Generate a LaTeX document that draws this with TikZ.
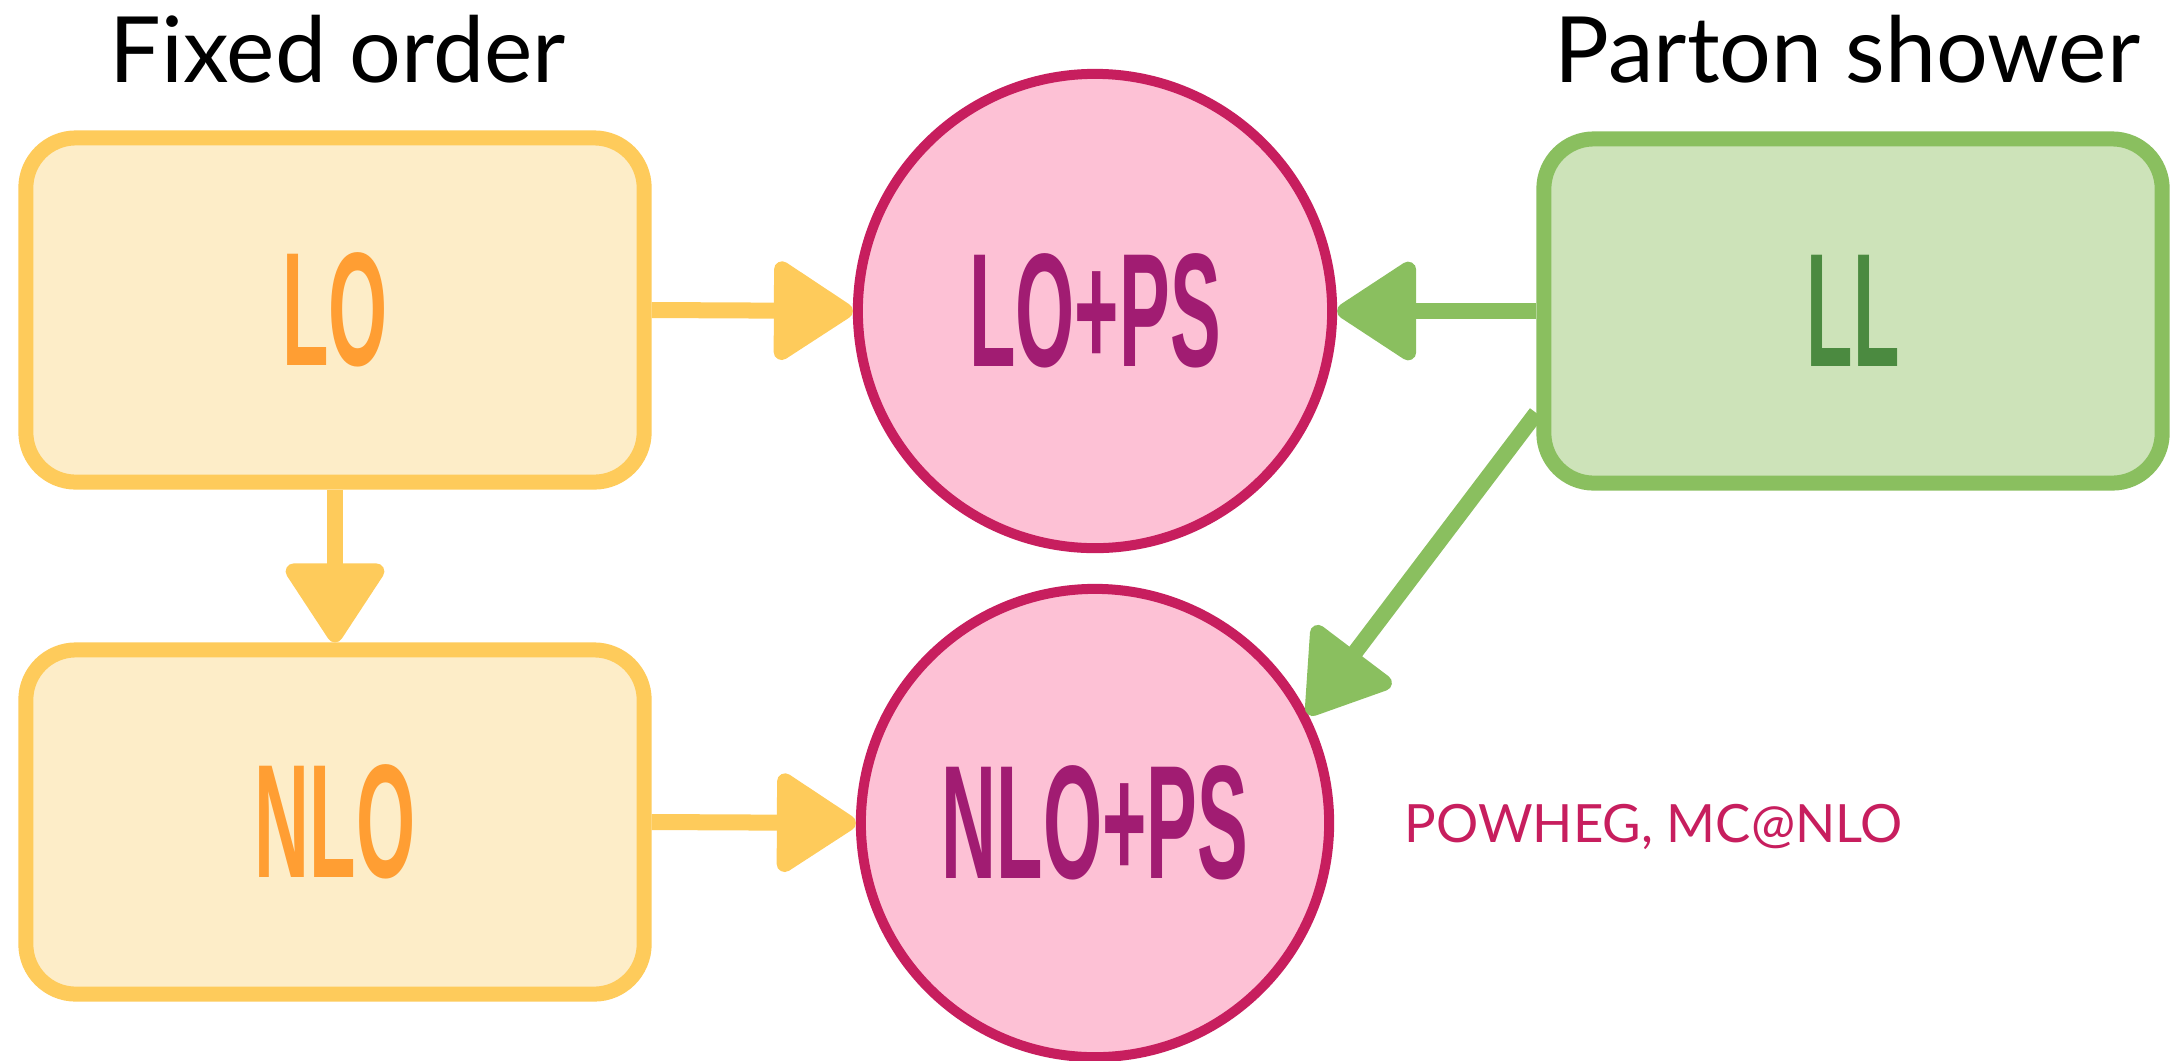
\documentclass[tikz,border=0pt]{standalone}
\usepackage{fontspec}
\usetikzlibrary{arrows.meta}
\setmainfont{Lato}
\newfontfamily\labelfont{Liberation Sans}[UprightFont={* Bold}, FakeStretch=0.47]

% palette
\definecolor{fofill}{HTML}{FDEDC8}
\definecolor{foline}{HTML}{FECB5B}
\definecolor{fotext}{HTML}{FF9E33}
\definecolor{psfill}{HTML}{CDE3B9}
\definecolor{psline}{HTML}{8ABF5F}
\definecolor{pstext}{HTML}{4B8A40}
\definecolor{mixfill}{HTML}{FDC1D5}
\definecolor{mixline}{HTML}{C71E5E}
\definecolor{mixtext}{HTML}{A11C72}

\begin{document}
\begin{tikzpicture}[x=0.01cm, y=-0.01cm,
  lbl/.style={font=\labelfont\fontsize{46}{48}\selectfont},
  box/.style={rectangle, rounded corners=0.5cm, line width=0.15cm,
    minimum width=6.18cm, minimum height=3.44cm, inner sep=0pt, lbl},
  fobox/.style={box, draw=foline, fill=fofill, text=fotext},
  psbox/.style={box, draw=psline, fill=psfill, text=pstext},
  mixcirc/.style={circle, draw=mixline, fill=mixfill, text=mixtext,
    line width=0.1cm, inner sep=0pt, lbl},
  headline/.style={inner sep=0pt, font=\fontsize{26}{30}\selectfont},
  conn/.style={line width=0.16cm, -{Triangle[length=0.86cm, width=1.08cm, round]}},
  foarrow/.style={conn, draw=foline},
  psarrow/.style={conn, draw=psline}]

  \useasboundingbox (0,0) rectangle (2173,1060);

  % column headings
  \node[headline, anchor=base west] (fixed) at (109,82) {Fixed order};
  \node[headline, anchor=base east] (parton) at (2141,82) {Parton shower};

  % fixed-order boxes
  \node[fobox] (LO)  at (335,310) {LO};
  \node[fobox] (NLO) at (335,822) {NLO};

  % parton-shower box
  \node[psbox] (LL) at (1853,311) {LL};

  % matched results
  \node[mixcirc, minimum size=4.74cm] (LOPS)  at (1095,311) {LO+PS};
  \node[mixcirc, minimum size=4.68cm] (NLOPS) at (1095,823) {NLO+PS};

  % matching schemes
  \node[anchor=base west, inner sep=0pt, text=mixline,
        font=\fontsize{15}{18}\selectfont] (tools) at (1404,842) {POWHEG, MC@NLO};

  % connectors
  \draw[foarrow] (LO.east) -- (LOPS.west);
  \draw[foarrow] (LO.south) -- (NLO.north);
  \draw[foarrow] (NLO.east) -- (NLOPS.west);
  \draw[psarrow] (LL.west) -- (LOPS.east);
  \draw[psarrow] ([yshift=-1.02cm]LL.west) -- (NLOPS.27);
\end{tikzpicture}
\end{document}
